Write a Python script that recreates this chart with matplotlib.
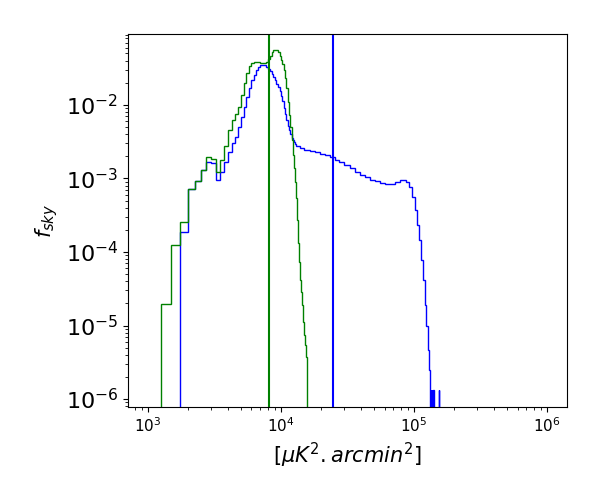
import numpy as np
import matplotlib
matplotlib.use("Agg")
import matplotlib.pyplot as plt

# ---- green histogram (bin edges in uK^2.arcmin^2, fraction of sky per bin)
green_edges = [1250, 1500, 1750, 2000, 2250, 2500, 2750, 3000, 3250, 3500,
               3750, 4000, 4250, 4500, 4750, 5000, 5250, 5500, 5750, 6000,
               6250, 6500, 6750, 7000, 7250, 7500, 7750, 8000, 8250, 8500,
               8750, 9000, 9250, 9500, 9750, 10000, 10250, 10500, 10750, 11000,
               11250, 11500, 11750, 12000, 12250, 12500, 12750, 13000, 13250, 13500,
               13750, 14000, 14250, 14500, 14750, 15000, 15250, 15500, 15750]
green_vals = [1.95e-5, 1.24e-4, 2.58e-4, 7.1e-4, 9.1e-4, 1.31e-3, 1.98e-3, 1.81e-3, 1.21e-3, 1.79e-3,
              2.8e-3, 4.6e-3, 6.3e-3, 7.6e-3, 9.5e-3, 1.37e-2, 1.99e-2, 2.73e-2, 3.40e-2, 3.73e-2,
              3.85e-2, 3.85e-2, 3.79e-2, 3.73e-2, 3.67e-2, 3.73e-2, 3.85e-2, 4.16e-2, 4.65e-2, 5.18e-2,
              5.51e-2, 5.60e-2, 5.51e-2, 5.18e-2, 4.65e-2, 4.09e-2, 3.61e-2, 2.99e-2, 2.35e-2, 1.70e-2,
              1.10e-2, 7.31e-3, 5.02e-3, 3.34e-3, 2.09e-3, 1.39e-3, 8.96e-4, 5.43e-4, 2.72e-4, 1.32e-4,
              7.3e-5, 4.16e-5, 2.86e-5, 1.90e-5, 1.12e-5, 7.43e-6, 5.43e-6, 3.72e-6]

# ---- blue histogram
blue_edges = [1750, 2000, 2250, 2500, 2750, 3000, 3250, 3500, 3750, 4000,
              4250, 4500, 4750, 5000, 5250, 5500, 5750, 6000, 6250, 6500,
              6750, 7000, 7250, 7500, 7750, 8000, 8250, 8500, 8750, 9000,
              9250, 9500, 9750, 10000, 10250, 10500, 10750, 11000, 11250, 11500,
              11750, 12000, 12250, 12500, 12750, 13000, 14000, 15000, 16500, 18000,
              19500, 21500, 23500, 25500, 27500, 30000, 33000, 36000, 39000, 42500,
              46500, 51000, 55500, 60500, 66000, 72000, 78000, 82500, 87000, 91500,
              96500, 101500, 105000, 109000, 112500, 116500, 120500, 124000, 127000, 129500,
              132000, 133000, 134000, 135000, 136500, 137500, 139000, 140500, 153000, 154000]
blue_vals = [1.89e-4, 7.1e-4, 9.1e-4, 1.31e-3, 1.69e-3, 1.61e-3, 9.55e-4, 1.24e-3, 1.69e-3, 2.32e-3,
             3.01e-3, 3.71e-3, 5.07e-3, 6.93e-3, 9.48e-3, 1.30e-2, 1.70e-2, 2.19e-2, 2.56e-2, 2.99e-2,
             3.29e-2, 3.50e-2, 3.50e-2, 3.45e-2, 3.30e-2, 3.12e-2, 2.90e-2, 2.65e-2, 2.40e-2, 2.15e-2,
             1.95e-2, 1.75e-2, 1.55e-2, 1.33e-2, 1.12e-2, 9.2e-3, 7.5e-3, 6.2e-3, 5.2e-3, 4.55e-3,
             4.0e-3, 3.6e-3, 3.3e-3, 3.1e-3, 2.9e-3, 2.72e-3, 2.58e-3, 2.45e-3, 2.38e-3, 2.27e-3,
             2.16e-3, 2.05e-3, 1.95e-3, 1.80e-3, 1.65e-3, 1.52e-3, 1.38e-3, 1.24e-3, 1.12e-3, 1.03e-3,
             9.5e-4, 9.1e-4, 8.75e-4, 8.5e-4, 8.45e-4, 8.85e-4, 9.4e-4, 9.5e-4, 8.9e-4, 7.6e-4,
             5.6e-4, 3.7e-4, 2.3e-4, 1.45e-4, 7.8e-5, 4.2e-5, 1.9e-5, 1.0e-5, 4.6e-6, 2.5e-6,
             1.4e-6, 0, 1.33e-6, 0, 1.33e-6, 0, 1.33e-6, 0, 1.33e-6]

# ---- vertical reference lines
green_line = 8070
blue_line = 24500

x_label = r'$[\mu K^2 . arcmin^2]$'
y_label = r'$f_{sky}$'

fig = plt.figure(figsize=(6, 5), dpi=100)
ax = fig.add_axes([128 / 600, 93 / 500, 439 / 600, 373 / 500])

ax.stairs(blue_vals, blue_edges, baseline=0, color='blue', linewidth=1.0)
ax.stairs(green_vals, green_edges, baseline=0, color='green', linewidth=1.0)
ax.axvline(green_line, color='green', linewidth=1.5)
ax.axvline(blue_line, color='blue', linewidth=1.5)

ax.set_xscale('log')
ax.set_yscale('log')
ax.set_xlim(10 ** 2.85, 10 ** 6.15)
ax.set_ylim(7.8e-7, 9.2e-2)

ax.tick_params(axis='x', which='major', labelsize=11)
ax.tick_params(axis='y', which='major', labelsize=16)
ax.set_xlabel(x_label, fontsize=15)
ax.set_ylabel(y_label, fontsize=15)

fig.savefig('out.png', dpi=100)
